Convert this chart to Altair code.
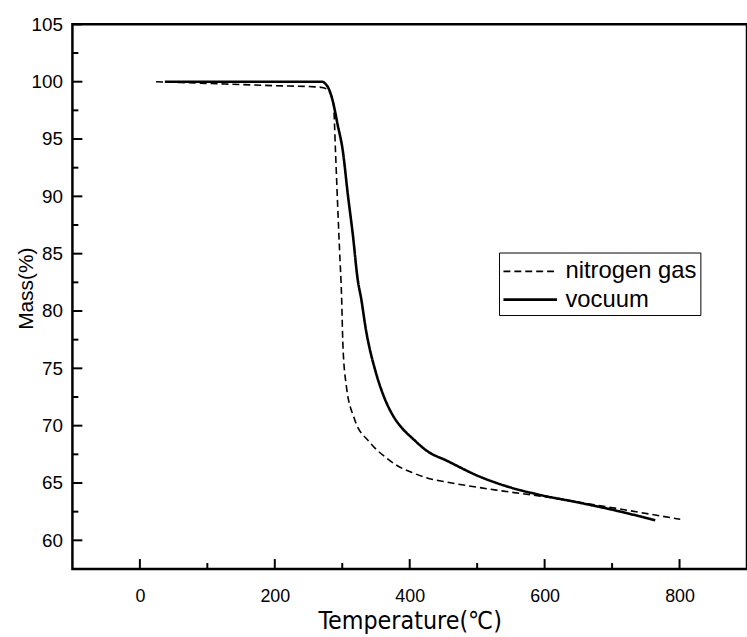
import altair as alt
import pandas as pd

# Vacuum (solid line)
vac_T = [37, 100, 200, 269, 278, 286, 293, 301, 308, 316, 323, 328, 335, 350, 362, 375, 390, 404, 428, 453, 502, 550, 590, 650, 698, 764]
vac_M = [100, 100, 100, 100, 99.6, 98.3, 96.3, 93.9, 90.3, 86.5, 82.7, 81.1, 78.4, 74.6, 72.5, 70.9, 69.7, 68.9, 67.7, 67.0, 65.6, 64.6, 64.0, 63.3, 62.7, 61.75]

# Nitrogen gas (dashed line)
n2_T = [24, 100, 200, 260, 270, 280, 287, 290, 293, 296, 299, 301, 306, 318, 340, 365, 379, 404, 428, 453, 526, 600, 674, 801]
n2_M = [100, 99.85, 99.65, 99.55, 99.5, 99.2, 98.0, 93.9, 89.5, 85.3, 81.3, 77.0, 73.5, 70.6, 68.6, 67.2, 66.6, 65.9, 65.4, 65.1, 64.4, 63.8, 63.1, 61.83]

series_names = ["nitrogen gas", "vocuum"]

x_major = [0, 200, 400, 600, 800]
x_minor = [100, 300, 500, 700]
y_major = [60, 65, 70, 75, 80, 85, 90, 95, 100, 105]
y_minor = [62.5, 67.5, 72.5, 77.5, 82.5, 87.5, 92.5, 97.5, 102.5]

W, H = 680, 549

df = pd.concat([
    pd.DataFrame({"T": n2_T, "M": n2_M, "s": series_names[0], "o": range(len(n2_T))}),
    pd.DataFrame({"T": vac_T, "M": vac_M, "s": series_names[1], "o": range(len(vac_T))}),
])

xs = alt.Scale(domain=[-100, 900], nice=False, zero=False)
ys = alt.Scale(domain=[57.5, 105], nice=False, zero=False)

lines = alt.Chart(df).mark_line(color="black", interpolate="monotone").encode(
    x=alt.X("T:Q", scale=xs,
            axis=alt.Axis(values=x_major, title="Temperature(℃)", grid=False, ticks=False,
                          labelPadding=19, labelFontSize=18, labelFont="Liberation Sans",
                          titleFont="DejaVu Sans Condensed", titleFontSize=25,
                          titleFontWeight="normal", titlePadding=3, domain=False)),
    y=alt.Y("M:Q", scale=ys,
            axis=alt.Axis(values=y_major, title="Mass(%)", grid=False, ticks=False,
                          labelPadding=10, labelFontSize=19, labelFont="Liberation Sans",
                          titleFont="Liberation Sans", titleFontSize=21, titleFontWeight="normal",
                          titleX=-46, titleY=266, titleBaseline="middle", titleAngle=270,
                          domain=False)),
    strokeDash=alt.StrokeDash("s:N", scale=alt.Scale(domain=series_names, range=[[7, 4], [1, 0]]),
                              title=None,
                              legend=alt.Legend(orient="none", legendX=430, legendY=230,
                                                symbolType="M-1,0H2.6", symbolSize=900,
                                                symbolStrokeColor="black", symbolStrokeWidth=2,
                                                labelFontSize=24, labelFont="Liberation Sans",
                                                labelColor="black", labelOffset=31,
                                                strokeColor="black", padding=3, rowPadding=0,
                                                fillColor="white")),
    strokeWidth=alt.StrokeWidth("s:N", scale=alt.Scale(domain=series_names, range=[1.6, 2.6]),
                                legend=None),
    order="o:Q",
)

xmaj = alt.Chart(pd.DataFrame({"v": x_major})).mark_rule(color="black", strokeWidth=2).encode(
    x=alt.X("v:Q", scale=xs), y=alt.value(H), y2=alt.value(H - 10))
xmin = alt.Chart(pd.DataFrame({"v": x_minor})).mark_rule(color="black", strokeWidth=2).encode(
    x=alt.X("v:Q", scale=xs), y=alt.value(H), y2=alt.value(H - 6))
ymaj = alt.Chart(pd.DataFrame({"v": y_major})).mark_rule(color="black", strokeWidth=2).encode(
    y=alt.Y("v:Q", scale=ys), x=alt.value(0), x2=alt.value(10))
ymin = alt.Chart(pd.DataFrame({"v": y_minor})).mark_rule(color="black", strokeWidth=2).encode(
    y=alt.Y("v:Q", scale=ys), x=alt.value(0), x2=alt.value(6))

chart = alt.layer(xmaj, xmin, ymaj, ymin, lines).properties(
    width=W, height=H,
    autosize=alt.AutoSizeParams(type="none"),
    padding={"left": 73, "top": 22, "right": 0, "bottom": 66},
    background="white",
).configure_view(stroke="black", strokeWidth=2.5).configure_axis(
    labelColor="black", titleColor="black")

chart.save("out.html", embed_options={"renderer": "svg", "actions": False})
